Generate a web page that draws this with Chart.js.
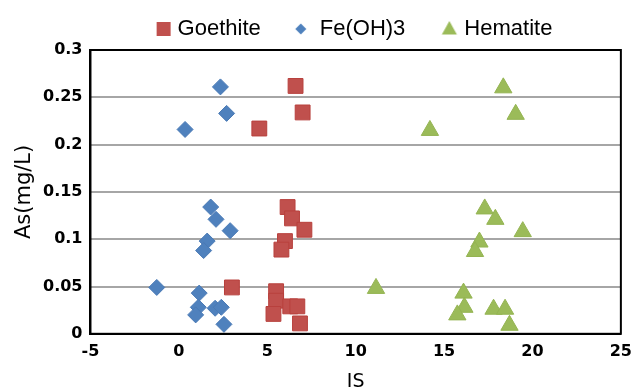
<!DOCTYPE html>
<html>
<head>
<meta charset="utf-8">
<script src="https://cdn.jsdelivr.net/npm/chart.js@4.4.0/dist/chart.umd.min.js"></script>
<style>
  html, body { margin: 0; padding: 0; background: #fff; overflow: hidden; }
  #wrap { width: 640px; height: 392px; }
</style>
</head>
<body>
<div id="wrap"><canvas id="chart"></canvas></div>
<script>
// --- data ---
const seriesNames = ['Goethite', 'Fe(OH)3', 'Hematite'];

const goethiteX = [6.6, 7.0, 4.55, 6.15, 6.4, 7.1, 6.0, 5.8, 3.0, 5.5, 5.5, 5.35, 6.3, 6.7, 6.85];
const goethiteY = [0.262, 0.234, 0.217, 0.134, 0.122, 0.110, 0.098, 0.089, 0.049, 0.045, 0.035, 0.021, 0.029, 0.029, 0.011];

const feohX = [2.35, 2.7, 0.35, 1.8, 2.1, 2.9, 1.6, 1.4, -1.25, 1.15, 1.1, 0.95, 2.05, 2.4, 2.55];
const feohY = [0.261, 0.233, 0.216, 0.134, 0.121, 0.109, 0.098, 0.088, 0.049, 0.043, 0.028, 0.020, 0.027, 0.028, 0.010];

const hematiteX = [18.35, 19.05, 14.2, 17.3, 17.9, 19.45, 17.0, 16.75, 11.15, 16.1, 16.15, 15.75, 17.8, 18.45, 18.7];
const hematiteY = [0.260, 0.232, 0.215, 0.132, 0.121, 0.108, 0.097, 0.087, 0.048, 0.043, 0.028, 0.020, 0.026, 0.026, 0.009];

const xTicks = [-5, 0, 5, 10, 15, 20, 25];
const yTicks = [0, 0.05, 0.1, 0.15, 0.2, 0.25, 0.3];

const colors = ['#C0504D', '#4F81BD', '#9BBB59'];

function toPoints(xs, ys) {
    return xs.map((x, i) => ({ x: x, y: ys[i] }));
}

// small legend marker images (Excel-like sizes differ per marker)
function legendMarker(kind, color) {
    const c = document.createElement('canvas');
    c.width = 46; c.height = 22;
    const g = c.getContext('2d');
    const cy = 11;
    g.fillStyle = color;
    g.beginPath();
    if (kind === 'rect') {
        g.rect(35 - 7, cy - 7, 14, 14);
    } else if (kind === 'rectRot') {
        const cx = 30;
        g.moveTo(cx, cy - 5.5); g.lineTo(cx + 5.5, cy); g.lineTo(cx, cy + 5.5); g.lineTo(cx - 5.5, cy);
    } else {
        const cx = 34;
        g.moveTo(cx, cy - 8); g.lineTo(cx + 7.5, cy + 5.5); g.lineTo(cx - 7.5, cy + 5.5);
    }
    g.closePath();
    g.fill();
    return c;
}

const SANS = "'Liberation Sans', Arial, sans-serif";
const TICKFONT = "'DejaVu Sans', Verdana, sans-serif";

const chart = new Chart(document.getElementById('chart'), {
    type: 'scatter',
    data: {
        datasets: [
            {
                label: seriesNames[0],
                data: toPoints(goethiteX, goethiteY),
                pointStyle: 'rect',
                pointRadius: 10.5,
                backgroundColor: colors[0],
                borderColor: '#B8403D',
                borderWidth: 1
            },
            {
                label: seriesNames[1],
                data: toPoints(feohX, feohY),
                pointStyle: 'rectRot',
                pointRadius: 8,
                backgroundColor: colors[1],
                borderColor: '#4A7AB5',
                borderWidth: 1
            },
            {
                label: seriesNames[2],
                data: toPoints(hematiteX, hematiteY),
                pointStyle: 'triangle',
                pointRadius: 10,
                backgroundColor: colors[2],
                borderColor: '#94B452',
                borderWidth: 1
            }
        ]
    },
    options: {
        responsive: true,
        maintainAspectRatio: false,
        animation: false,
        layout: { padding: { left: 2, right: 3, top: 0, bottom: 0 } },
        plugins: {
            legend: {
                position: 'top',
                labels: {
                    usePointStyle: true,
                    pointStyleWidth: 30,
                    color: '#000',
                    font: { family: SANS, size: 22 },
                    padding: 18,
                    generateLabels(ch) {
                        const kinds = ['rect', 'rectRot', 'triangle'];
                        return ch.data.datasets.map((ds, i) => ({
                            text: ds.label,
                            datasetIndex: i,
                            fillStyle: colors[i],
                            strokeStyle: colors[i],
                            lineWidth: 0,
                            hidden: false,
                            fontColor: '#000',
                            pointStyle: legendMarker(kinds[i], colors[i])
                        }));
                    }
                }
            },
            tooltip: { enabled: false }
        },
        scales: {
            x: {
                type: 'linear',
                min: -5,
                max: 25,
                afterBuildTicks: axis => { axis.ticks = xTicks.map(v => ({ value: v })); },
                grid: { display: false, drawTicks: false },
                border: { display: true, color: '#000', width: 2 },
                ticks: { color: '#000', padding: 8, font: { family: TICKFONT, size: 16, weight: 'bold' } },
                title: { display: true, text: 'IS', color: '#000', font: { family: TICKFONT, size: 19, lineHeight: 1 }, padding: { top: 4, bottom: 0 } }
            },
            y: {
                type: 'linear',
                min: 0,
                max: 0.3,
                afterBuildTicks: axis => { axis.ticks = yTicks.map(v => ({ value: v })); },
                grid: { color: '#a6a6a6', lineWidth: 2, drawTicks: false },
                border: { display: true, color: '#000', width: 2 },
                ticks: {
                    color: '#000', padding: 8,
                    font: { family: TICKFONT, size: 16, weight: 'bold' },
                    callback: v => String(v)
                },
                title: { display: true, text: 'As(mg/L)', color: '#000', font: { family: TICKFONT, size: 21, lineHeight: 1 }, padding: { top: 12, bottom: 0 } }
            }
        }
    },
    plugins: [{
        // legend sits a little right of centre in the original
        id: 'legendShift',
        afterLayout(ch) {
            if (ch.legend) { ch.legend.left += 25; ch.legend.right += 25; }
        }
    }, {
        // black box around the plot area
        id: 'frame',
        afterDraw(ch) {
            const a = ch.chartArea, ctx = ch.ctx;
            ctx.save();
            ctx.strokeStyle = '#000';
            ctx.lineWidth = 2;
            ctx.strokeRect(a.left, a.top, a.right - a.left, a.bottom - a.top);
            ctx.restore();
        }
    }]
});
</script>
</body>
</html>
